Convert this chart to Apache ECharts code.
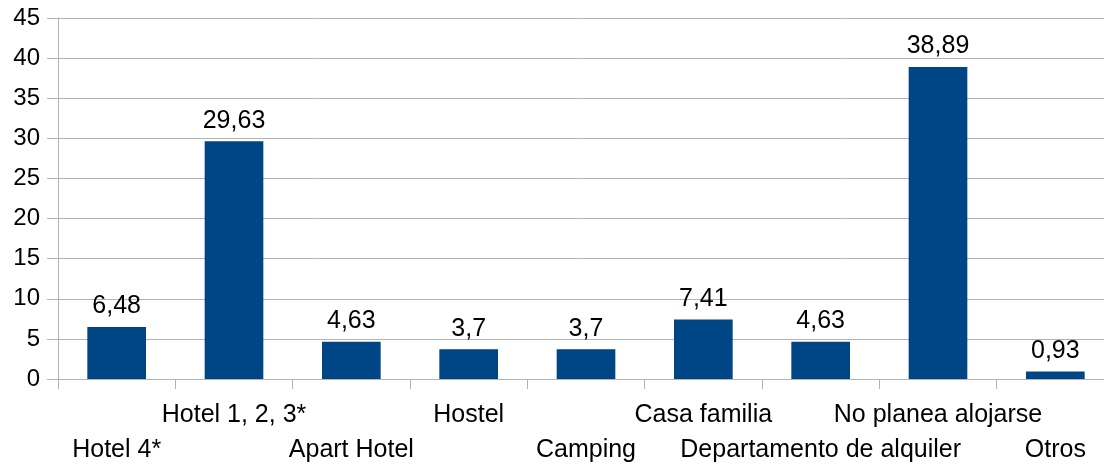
<!DOCTYPE html>
<html>
<head>
<meta charset="utf-8">
<script src="https://cdn.jsdelivr.net/npm/echarts@6/dist/echarts.min.js"></script>
<style>
  html, body { margin: 0; padding: 0; background: #fff; }
  #main { width: 1104px; height: 467px; }
</style>
</head>
<body>
<div id="main"></div>
<script>
// categorías y porcentajes
var categorias = ['Hotel 4*', 'Hotel 1, 2, 3*', 'Apart Hotel', 'Hostel', 'Camping',
    'Casa familia', 'Departamento de alquiler', 'No planea alojarse', 'Otros'];
var valores = [6.48, 29.63, 4.63, 3.7, 3.7, 7.41, 4.63, 38.89, 0.93];

var gris = '#b3b3b3';
var fuente = 'Liberation Sans, Arial, sans-serif';

var myChart = echarts.init(document.getElementById('main'));

var option = {
    animation: false,
    grid: {
        left: 58,
        top: 18,
        width: 1056,
        height: 361,
        outerBoundsMode: 'none'
    },
    xAxis: {
        type: 'category',
        data: categorias,
        boundaryGap: true,
        axisLine: { lineStyle: { color: gris, width: 1 } },
        axisTick: { show: true, length: 10, lineStyle: { color: gris } },
        axisLabel: {
            interval: 0,
            margin: 19,
            color: '#000',
            fontFamily: fuente,
            fontSize: 25,
            lineHeight: 35,
            // etiquetas alternadas en dos filas
            formatter: function (value, index) {
                return index % 2 ? value : '\n' + value;
            }
        }
    },
    yAxis: {
        type: 'value',
        min: 0,
        max: 45,
        interval: 5,
        axisLine: { show: true, lineStyle: { color: gris } },
        axisTick: { show: true, length: 11, lineStyle: { color: gris } },
        axisLabel: {
            margin: 18,
            color: '#000',
            fontFamily: fuente,
            fontSize: 24
        },
        splitLine: { lineStyle: { color: gris, width: 1 } }
    },
    series: [{
        type: 'bar',
        data: valores,
        barWidth: '50%',
        itemStyle: { color: '#004586' },
        label: {
            show: true,
            position: 'top',
            distance: 8,
            color: '#000',
            fontFamily: fuente,
            fontSize: 25,
            formatter: function (p) {
                return String(p.value).replace('.', ',');
            }
        }
    }]
};

myChart.setOption(option);
</script>
</body>
</html>
